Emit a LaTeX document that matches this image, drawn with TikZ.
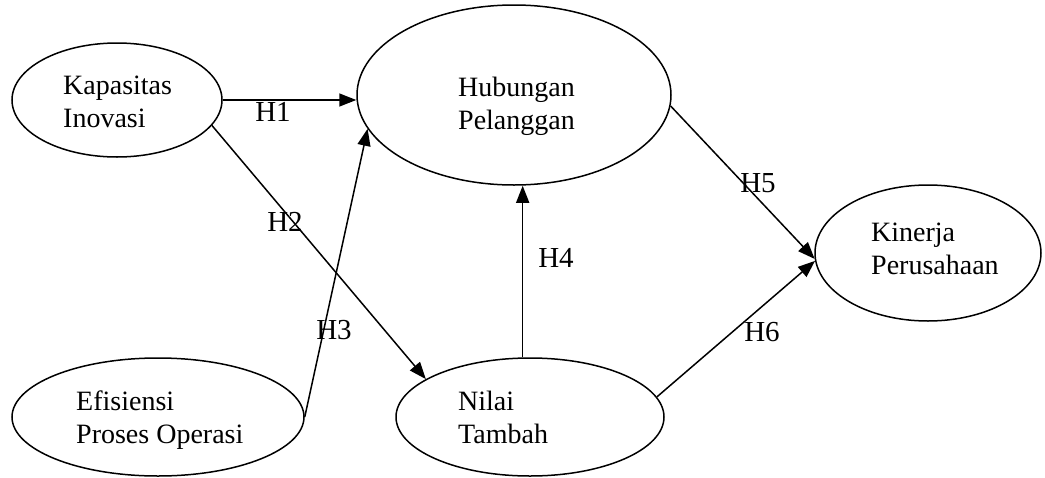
\documentclass[tikz,border=0pt]{standalone}
\usepackage{fontspec}
\setmainfont{Liberation Serif}
\usetikzlibrary{shapes.geometric,arrows.meta}
\begin{document}
\begin{tikzpicture}[x=1pt,y=-1pt,
  construct/.style={draw,ellipse,line width=1.5pt,inner sep=0pt},
  caption/.style={align=left,anchor=west,inner sep=0pt,font=\fontsize{28}{33}\selectfont},
  hyp/.style={inner sep=0pt,font=\fontsize{29}{33}\selectfont},
  link/.style={line width=1.5pt,-{Triangle[length=17pt,width=13pt]}}]
\useasboundingbox (0,0) rectangle (1045,477);
% Draw constructs
\node[construct,minimum width=210pt,minimum height=114pt] (kapasitas) at (117,100) {};
\node[construct,minimum width=314pt,minimum height=180pt] (hubungan) at (514,95) {};
\node[construct,minimum width=226pt,minimum height=136pt] (kinerja) at (928,253) {};
\node[construct,minimum width=292pt,minimum height=118pt] (efisiensi) at (158,417) {};
\node[construct,minimum width=268pt,minimum height=118pt] (nilai) at (530,417) {};
\node[caption] (kapasitas-text) at (63,102) {Kapasitas\\Inovasi};
\node[caption] (hubungan-text) at (458,106) {Hubungan\\Pelanggan};
\node[caption] (kinerja-text) at (871,249) {Kinerja\\Perusahaan};
\node[caption] (efisiensi-text) at (76,420) {Efisiensi\\Proses Operasi};
\node[caption] (nilai-text) at (458,417) {Nilai\\Tambah};
% Hypotheses arrows
\draw[link] (kapasitas.east) to (kapasitas.east -| hubungan.west);
\draw[link] (kapasitas.-15.5) to (nilai.160);
\draw[link] (efisiensi.east) to (hubungan.193);
\draw[link] (nilai.97) to (nilai.97 |- hubungan.south);
\draw[link] (hubungan.-4) to (kinerja.183);
\draw[link] (nilai.9) to (kinerja.184);
% Labels
\node[hyp] (h1) at (273,112) {H1};
\node[hyp] (h2) at (285,222) {H2};
\node[hyp] (h3) at (334,330) {H3};
\node[hyp] (h4) at (556,258) {H4};
\node[hyp] (h5) at (758,183) {H5};
\node[hyp] (h6) at (762,332) {H6};
\end{tikzpicture}
\end{document}
